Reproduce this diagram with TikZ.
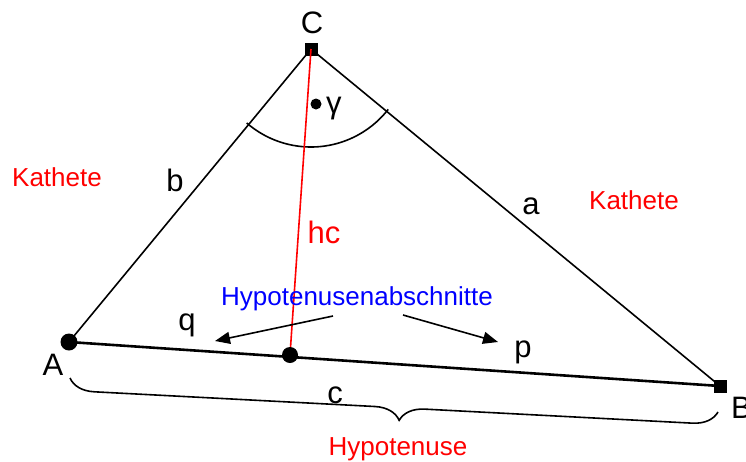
\documentclass[tikz,border=0pt]{standalone}
\usepackage{fontspec}
\setmainfont{Liberation Sans}
\usetikzlibrary{arrows.meta,decorations.pathreplacing}

\begin{document}
\begin{tikzpicture}[x=1pt,y=-1pt,
    lbl/.style={font=\fontsize{31}{36}\selectfont,inner sep=0pt,anchor=base},
    word/.style={font=\fontsize{26}{30}\selectfont,inner sep=0pt,anchor=base},
    dot/.style={circle,fill=black,inner sep=0pt,minimum size=17pt},
    sq/.style={rectangle,fill=black,inner sep=0pt,minimum size=13pt},
    side/.style={line width=1.6pt},
    pointer/.style={line width=1.6pt,-{Triangle[length=15pt,width=12pt]}}]
    \useasboundingbox (0,0) rectangle (746,461);

    % corners and foot of the altitude
    \coordinate (A) at (69,342);
    \coordinate (B) at (720,386);
    \coordinate (C) at (311,49);
    \coordinate (H) at (290,355);

    % sides
    \draw[side] (A) -- (C) -- (B);
    \draw[line width=2.6pt] (A) -- (B);

    % angle at C
    \draw[side] (C) ++(131:98) arc[start angle=131,end angle=38,radius=98];
    \node[circle,fill=black,inner sep=0pt,minimum size=11pt] (gdot) at (316,104) {};
    \node[anchor=base west,inner sep=0pt,font=\fontsize{31}{36}\selectfont] (gam) at (326,113) {γ};

    % altitude
    \node[sq] (Cm) at (C) {};
    \draw[red,line width=1.6pt] (C) -- (H);
    \node[dot] (Am) at (A) {};
    \node[sq] (Bm) at (B) {};
    \node[dot,minimum size=16pt] (Hm) at (H) {};

    % brace under c
    \coordinate (brA) at (70,378);
    \coordinate (brB) at (718,412);
    \draw[side,decorate,decoration={brace,mirror,amplitude=25pt,aspect=0.51}] (brA) -- (brB);

    % labels
    \node[lbl] (lC) at (312,33) {C};
    \node[lbl] (lA) at (53,375) {A};
    \node[lbl,anchor=base west] (lB) at (731,418) {B};
    \node[lbl] (lb) at (175,191) {b};
    \node[lbl] (la) at (531,214) {a};
    \node[lbl] (lc) at (335,403) {c};
    \node[lbl] (lq) at (187,330) {q};
    \node[lbl] (lp) at (523,357) {p};
    \node[lbl,red] (lhc) at (324,243) {hc};
    \node[word,red] (kathL) at (57,186) {Kathete};
    \node[word,red] (kathR) at (634,209) {Kathete};
    \node[word,red] (hyp) at (398,455) {Hypotenuse};
    \node[word,blue] (abschn) at (357,305) {Hypotenusenabschnitte};

    % pointers to q and p
    \coordinate (qtail) at (333,316);
    \coordinate (qhead) at (215,341);
    \coordinate (ptail) at (403,315);
    \coordinate (phead) at (498,342);
    \draw[pointer] (qtail) -- (qhead);
    \draw[pointer] (ptail) -- (phead);
\end{tikzpicture}
\end{document}
